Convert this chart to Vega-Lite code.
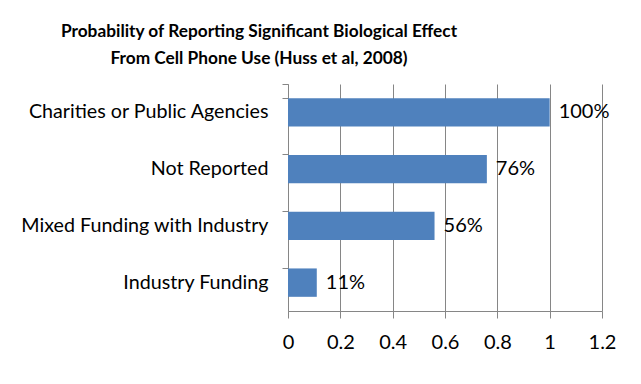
{
  "$schema": "https://vega.github.io/schema/vega-lite/v6.json",
  "autosize": {"type": "none"},
  "width": 314,
  "height": 227,
  "padding": {"left": 288, "top": 84, "right": 39, "bottom": 73},
  "background": "white",
  "title": {
    "text": ["Probability of Reporting Significant Biological Effect", "From Cell Phone Use (Huss et al, 2008)"],
    "font": "Lato",
    "fontSize": 17.3,
    "fontWeight": "bold",
    "color": "black",
    "anchor": "middle",
    "frame": "group",
    "dx": -186,
    "offset": 7,
    "lineHeight": 27
  },
  "data": {
    "values": [
      {"source": "Charities or Public Agencies", "p": 1.0},
      {"source": "Not Reported", "p": 0.76},
      {"source": "Mixed Funding with Industry", "p": 0.56},
      {"source": "Industry Funding", "p": 0.11}
    ]
  },
  "encoding": {
    "y": {
      "field": "source",
      "type": "nominal",
      "sort": null,
      "title": null,
      "scale": {"paddingInner": 0.5, "paddingOuter": 0.25},
      "axis": {
        "bandPosition": 0,
        "tickExtra": true,
        "domainColor": "#868686",
        "tickColor": "#868686",
        "tickSize": 6,
        "labelFont": "Lato",
        "labelFontSize": 19.7,
        "labelColor": "black",
        "labelPadding": 14,
        "labelLimit": 400
      }
    },
    "x": {
      "field": "p",
      "type": "quantitative",
      "title": null,
      "scale": {"domain": [0, 1.2], "nice": false},
      "axis": {
        "values": [0, 0.2, 0.4, 0.6, 0.8, 1, 1.2],
        "format": "~g",
        "grid": true,
        "gridColor": "#868686",
        "domainColor": "#868686",
        "tickColor": "#868686",
        "tickSize": 7,
        "labelFont": "Lato",
        "labelFontSize": 20,
        "labelColor": "black",
        "labelPadding": 14,
        "labelFlush": false
      }
    }
  },
  "layer": [
    {"mark": {"type": "bar", "color": "#4f81bd"}},
    {
      "mark": {"type": "text", "align": "left", "baseline": "middle", "dx": 9, "font": "Lato", "fontSize": 20, "color": "black"},
      "encoding": {"text": {"field": "p", "type": "quantitative", "format": ".0%"}}
    }
  ],
  "config": {"view": {"stroke": null}}
}
